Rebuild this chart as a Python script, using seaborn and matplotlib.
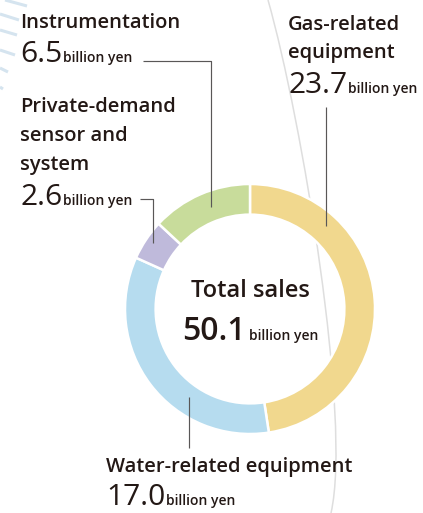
import numpy as np
import matplotlib
matplotlib.use("Agg")
import matplotlib.pyplot as plt
from matplotlib.path import Path
from matplotlib.patches import PathPatch
import seaborn as sns

# ---- data ----
segments = ["Gas-related equipment", "Water-related equipment",
            "Private-demand sensor and system", "Instrumentation"]
values = [23.7, 17.0, 2.6, 6.5]
value_labels = ["23.7", "17.0", "2.6", "6.5"]
colors = ["#F1D88E", "#B6DCEF", "#BFBADB", "#C8DC9B"]
total_title = "Total sales"
total_label = "50.1"
unit = "billion yen"

sns.set_theme(style="white")
plt.rcParams['font.family'] = ['Open Sans', 'DejaVu Sans']

TXT = "#231815"
LINE = "#595757"
W, H = 423, 513
fig = plt.figure(figsize=(W / 100, H / 100), dpi=100)
fig.patch.set_facecolor("white")

# background decoration
bg = fig.add_axes([0, 0, 1, 1], zorder=0)
bg.set_xlim(0, W); bg.set_ylim(H, 0); bg.axis('off')
arc = Path([(268, 0), (302, 120), (352, 420), (331, 513)],
           [Path.MOVETO, Path.CURVE4, Path.CURVE4, Path.CURVE4])
bg.add_patch(PathPatch(arc, fill=False, edgecolor="#DEDEDE", lw=1.1))
for (x0, y0, x1, y1) in [(5, 0, 27, 6), (0, 14, 19, 20), (0, 30, 17, 35),
                         (0, 50, 15, 55), (0, 68, 8, 72), (0, 87, 3, 89)]:
    bg.plot([x0, x1], [y0, y1], color="#D5E4EF", lw=2.2, solid_capstyle='butt')

# donut
cx, cy, R = 250, 309, 125
pax = fig.add_axes([(cx - R) / W, (H - cy - R) / H, 2 * R / W, 2 * R / H], zorder=1)
sns.set_palette(colors)
pax.pie(values, colors=colors, startangle=90, counterclock=False, radius=1,
        wedgeprops=dict(width=0.245, edgecolor='white', linewidth=1.8))
pax.set_xlim(-1, 1); pax.set_ylim(-1, 1)
pax.axis('off')

# overlay for text and leader lines
ov = fig.add_axes([0, 0, 1, 1], zorder=2)
ov.patch.set_alpha(0)
ov.set_xlim(0, W); ov.set_ylim(H, 0); ov.axis('off')
renderer = fig.canvas.get_renderer()

def name(x, y, s, size=14.5):
    ov.text(x, y, s, fontsize=size, fontweight='semibold', color=TXT,
            ha='left', va='baseline')

def width_of(t):
    return t.get_window_extent(renderer).width

def value(x, y, num, size=21.5, weight='normal', usize=10, gap=1):
    t = ov.text(x, y, num, fontsize=size, fontweight=weight, color=TXT,
                ha='left', va='baseline')
    w = width_of(t)
    ov.text(x + w + gap, y, unit, fontsize=usize, fontweight='semibold',
            color=TXT, ha='left', va='baseline')

def leader(xs, ys):
    ov.plot(xs, ys, color=LINE, lw=0.85, solid_capstyle='butt')

# Instrumentation
name(20, 28, segments[3])
value(20, 62, value_labels[3])
leader([143, 211, 211], [61, 61, 207])

# Gas-related
name(288, 30, "Gas-related")
name(288, 58, "equipment")
value(288, 93, value_labels[0])
leader([326, 326], [107, 226])

# Private-demand
name(20, 112, "Private-demand")
name(20, 141, "sensor and")
name(20, 170, "system")
value(20, 205, value_labels[2])
leader([140, 153, 153], [199, 199, 243])

# Water-related
name(106, 472, segments[1])
value(106, 505, value_labels[1])
leader([189, 189], [397, 448])

# Center
ov.text(250, 297, total_title, fontsize=17, fontweight='semibold', color=TXT,
        ha='center', va='baseline')
t = ov.text(0, 340, total_label, fontsize=23, fontweight='semibold', color=TXT,
            ha='left', va='baseline')
u = ov.text(0, 340, unit, fontsize=10, fontweight='semibold', color=TXT,
            ha='left', va='baseline')
wt, wu = width_of(t), width_of(u)
gap = 3
start = 250 - (wt + gap + wu) / 2
t.set_x(start)
u.set_x(start + wt + gap)

fig.savefig("out.png", dpi=100, facecolor="white")
